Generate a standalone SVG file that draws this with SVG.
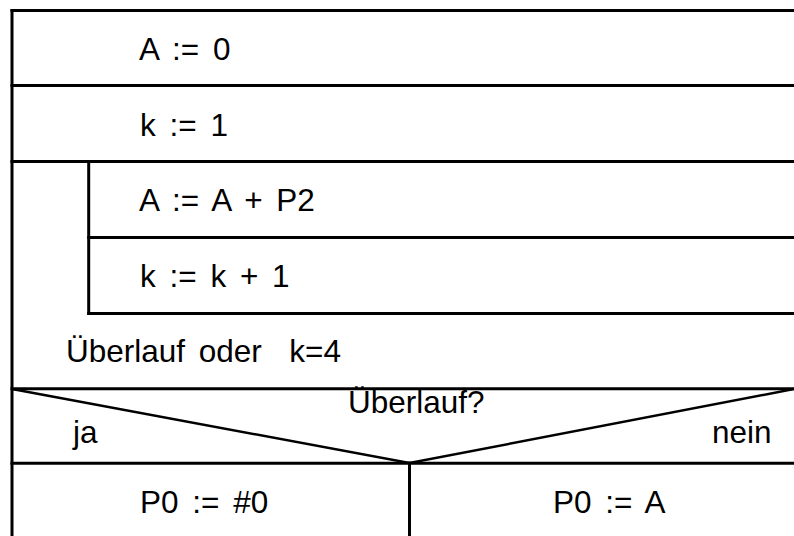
<svg xmlns="http://www.w3.org/2000/svg" width="794" height="536" viewBox="0 0 794 536">
<style>
.ln{stroke:#000;stroke-width:3;fill:none;stroke-linecap:square}
.dg{stroke:#000;stroke-width:2.5;fill:none}
text{font-family:"Liberation Sans",Arial,Helvetica,sans-serif;font-size:31.5px;fill:#000;word-spacing:5px;white-space:pre}
</style>
<rect width="794" height="536" fill="#fff"/>
<g id="frame">
<line class="ln" x1="12" y1="10.5" x2="796" y2="10.5"/>
<line class="ln" x1="12" y1="10.5" x2="12" y2="538"/>
</g>
<g id="s1">
<line class="ln" x1="12" y1="85.5" x2="796" y2="85.5"/>
<text x="139" y="60">A := 0</text>
</g>
<g id="s2">
<line class="ln" x1="12" y1="161.5" x2="796" y2="161.5"/>
<text x="140" y="136">k := 1</text>
</g>
<g id="loop">
<line class="ln" x1="88.7" y1="161.5" x2="88.7" y2="313.5"/>
<line class="ln" x1="88.7" y1="313.5" x2="796" y2="313.5"/>
<line class="ln" x1="12" y1="388.8" x2="796" y2="388.8"/>
<text x="66" y="362">Überlauf oder  k=4</text>
</g>
<g id="s3">
<line class="ln" x1="88.7" y1="237.5" x2="796" y2="237.5"/>
<text x="139" y="211">A := A + P2</text>
</g>
<g id="s4">
<text x="140" y="287">k := k + 1</text>
</g>
<g id="decision">
<line class="ln" x1="12" y1="463.2" x2="796" y2="463.2"/>
<polyline class="dg" points="12,389 409.5,463 794,389"/>
<text x="348" y="413">Überlauf?</text>
<text x="73" y="443">ja</text>
<text x="712" y="443">nein</text>
<line class="ln" x1="409.5" y1="463.2" x2="409.5" y2="538"/>
</g>
<g id="yes">
<text x="140" y="513">P0 := #0</text>
</g>
<g id="no">
<text x="553" y="513">P0 := A</text>
</g>
</svg>
